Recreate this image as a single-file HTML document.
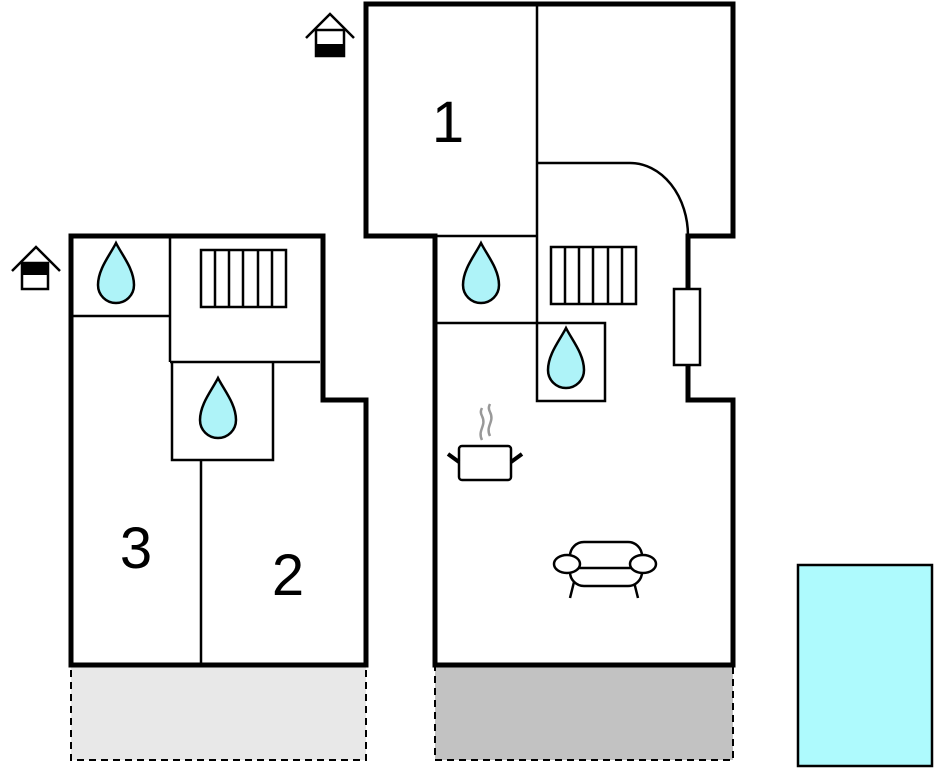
<!DOCTYPE html>
<html><head><style>body{margin:0;background:#fff}svg{display:block}</style></head><body>
<svg width="934" height="768" viewBox="0 0 934 768" xmlns="http://www.w3.org/2000/svg" font-family="Liberation Sans, sans-serif">
<defs>
<g id="drop"><path d="M0,-32 C6,-20 18,-6 18,10 C18,20 10,28 0,28 C-10,28 -18,20 -18,10 C-18,-6 -6,-20 0,-32 Z" fill="#aef3f8" stroke="#000" stroke-width="2.5"/></g>
<g id="stairs" fill="none" stroke="#000" stroke-width="2.5"><rect x="0" y="0" width="85" height="57"/><path d="M14,0V57M28,0V57M42,0V57M57,0V57M71,0V57"/></g>
</defs>
<rect x="71" y="665" width="295" height="95" fill="#e8e8e8" stroke="#000" stroke-width="2" stroke-dasharray="7,5"/>
<rect x="435" y="665" width="298" height="95" fill="#c2c2c2" stroke="#000" stroke-width="2" stroke-dasharray="7,5"/>
<rect x="798" y="565" width="134" height="201" fill="#aefafd" stroke="#000" stroke-width="2.5"/>
<g fill="none" stroke="#000" stroke-width="2.5">
<path d="M71,316H170M170,236V362M170,362H320M172,362H273V460H172Z M201,460V665"/>
</g>
<path d="M71,236H323V400H366V665H71Z" fill="none" stroke="#000" stroke-width="5"/>
<g fill="none" stroke="#000" stroke-width="2.5">
<path d="M537,4V323M537,163H630A58,73 0 0 1 688,236M435,236H537M435,323H605V401H537V323"/>
</g>
<path d="M366,4H733V236H688V400H733V665H435V236H366Z" fill="none" stroke="#000" stroke-width="5"/>
<rect x="674" y="289" width="26" height="76" fill="#fff" stroke="#000" stroke-width="2.5"/>
<use href="#drop" x="116" y="275"/>
<use href="#drop" x="218" y="410"/>
<use href="#drop" x="481" y="275"/>
<use href="#drop" x="566" y="360"/>
<use href="#stairs" x="201" y="250"/>
<use href="#stairs" x="551" y="247"/>
<g fill="none" stroke="#000" stroke-width="2.5">
<path d="M306,38L330,14L354,38"/><rect x="316" y="30" width="28" height="26"/>
<path d="M12,271L36,247L60,271"/><rect x="22" y="263" width="26" height="26"/>
</g>
<rect x="316" y="44" width="28" height="13" fill="#000"/>
<rect x="22" y="263" width="26" height="12" fill="#000"/>
<g fill="none" stroke="#000" stroke-width="2.5">
<rect x="459" y="446" width="52" height="34" rx="3" fill="#fff"/>
<path d="M448,454L459,462M522,454L511,462" stroke-width="4"/>
</g>
<path d="M482,440c-5,-10 5,-14 0,-24c-2,-4 -1,-6 0,-8M490,436c-5,-10 5,-14 0,-24c-2,-4 -1,-6 0,-8" fill="none" stroke="#999" stroke-width="2.5"/>
<g fill="#fff" stroke="#000" stroke-width="2.5">
<path d="M574,582L570,598M634,582L638,598" fill="none"/>
<rect x="570" y="542" width="72" height="44" rx="14"/>
<path d="M574,568H640" fill="none"/>
<ellipse cx="567" cy="564" rx="13" ry="9"/>
<ellipse cx="643" cy="564" rx="13" ry="9"/>
</g>
<text x="448" y="142" font-size="58" text-anchor="middle">1</text>
<text x="136" y="568" font-size="58" text-anchor="middle">3</text>
<text x="288" y="595" font-size="58" text-anchor="middle">2</text>
</svg>
</body></html>
